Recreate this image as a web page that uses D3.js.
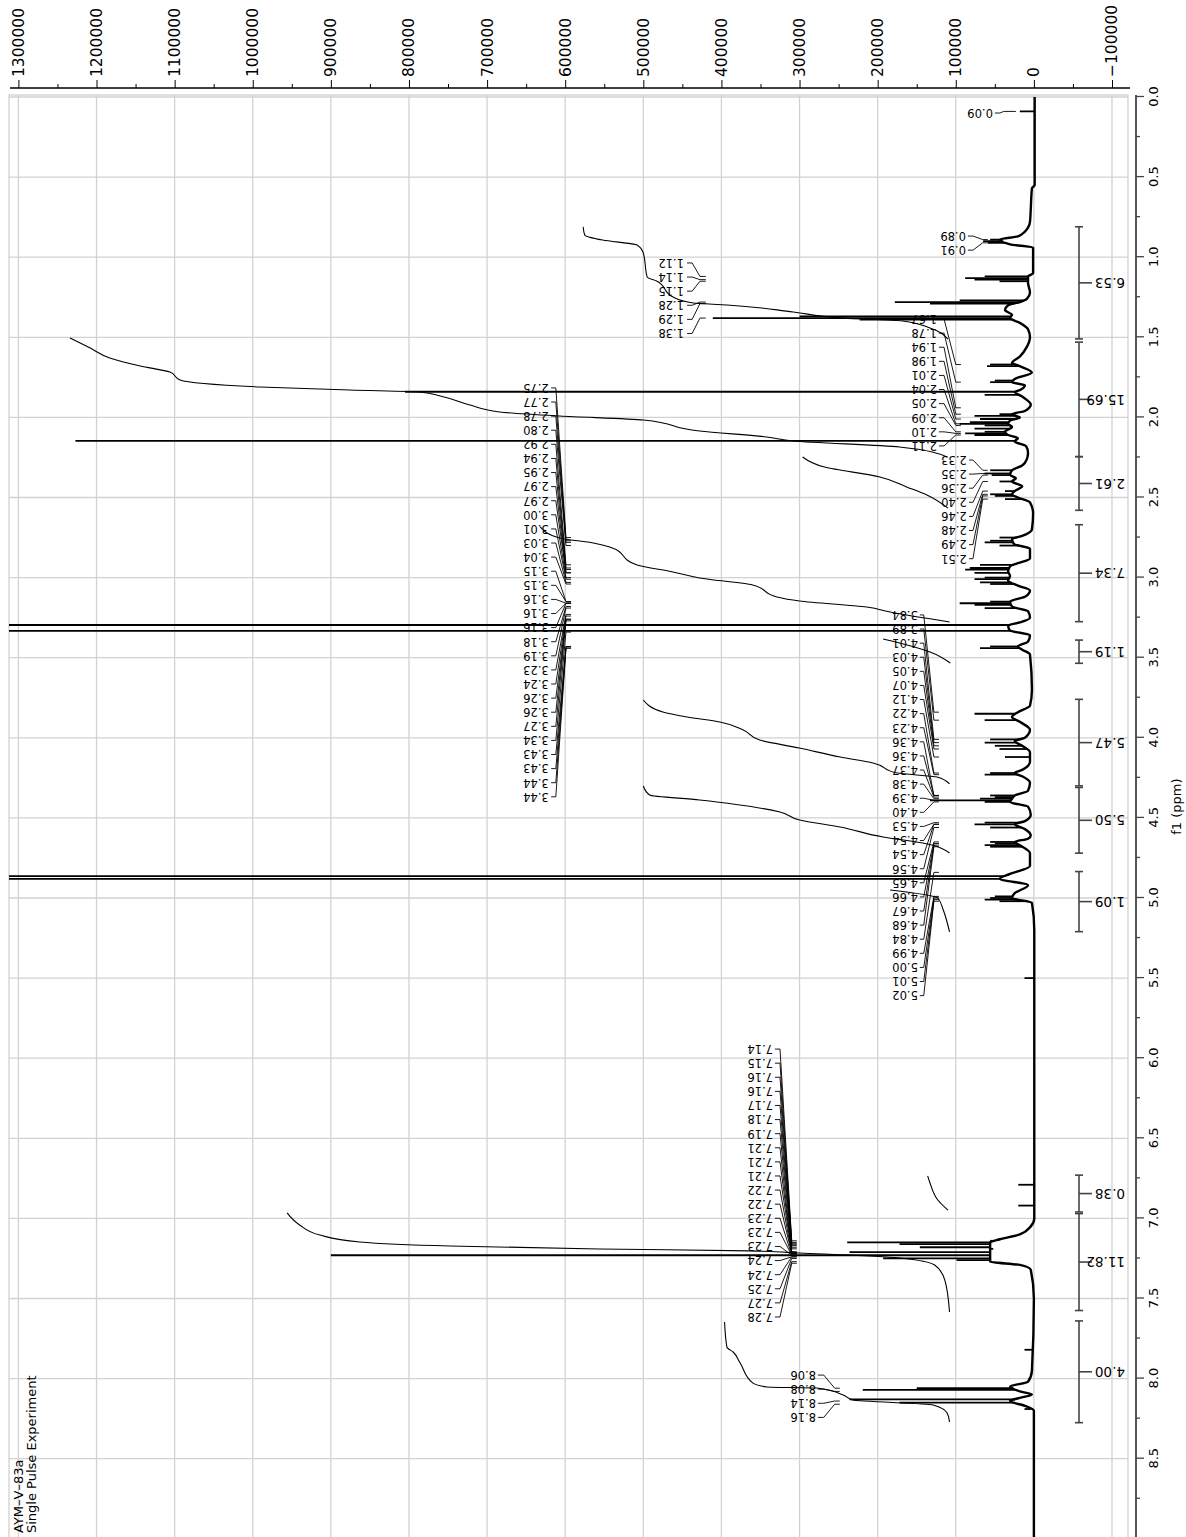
<!DOCTYPE html>
<html>
<head>
<meta charset="utf-8">
<script src="https://cdn.jsdelivr.net/npm/d3@7"></script>
<style>
body { margin: 0; background: #fff; }
text { font-family: "DejaVu Sans", sans-serif; fill: #000; }
</style>
</head>
<body>
<script>
// page size; the chart is drawn in its normal orientation and turned 90deg
var width = 1186;
var height = 1537;

// axis ticks
var ppm_ticks = d3.range(0, 8.51, 0.5);
var ppm_minor = d3.range(0.25, 9, 0.5);
var int_ticks = d3.range(-100000, 1300001, 100000);
var int_minor = d3.range(-50000, 1300000, 100000);

// spectrum baseline / broad shape [ppm, intensity]
var baseline = [
  [0.00,-1000],[0.55,-1000],[0.57,2500],[0.70,4000],[0.78,5000],[0.84,11500],[0.87,20500],
  [0.89,43500],[0.92,30500],[0.94,1000],[1.10,1000],[1.12,7500],[1.16,7500],[1.22,5000],
  [1.26,9000],[1.28,18000],[1.30,33000],[1.33,37000],[1.36,28000],[1.38,30500],[1.41,18000],
  [1.45,7500],[1.50,5000],[1.56,9000],[1.62,18000],[1.66,28000],[1.68,18000],[1.72,2500],
  [1.76,24500],[1.78,28000],[1.80,11500],[1.83,18000],[1.84,24500],[1.87,15000],[1.92,4000],
  [1.96,11500],[1.98,28000],[2.00,18000],[2.02,30500],[2.04,33000],[2.06,28000],[2.09,37000],
  [2.11,33000],[2.13,20500],[2.15,24500],[2.18,10000],[2.22,7500],[2.26,9000],[2.30,15000],
  [2.33,28000],[2.36,30500],[2.38,23000],[2.40,28000],[2.43,15000],[2.46,24500],[2.48,28000],
  [2.50,20500],[2.53,5000],[2.60,1000],[2.70,2500],[2.74,15000],[2.76,28000],[2.79,25500],
  [2.82,5000],[2.88,5000],[2.91,20500],[2.93,30500],[2.96,33000],[2.99,30500],[3.02,33000],
  [3.05,20500],[3.08,5000],[3.12,11500],[3.15,30500],[3.18,28000],[3.21,7500],[3.25,5000],
  [3.28,18000],[3.30,33000],[3.33,30500],[3.36,5000],[3.40,7500],[3.43,20500],[3.45,15000],
  [3.48,5000],[3.70,2500],[3.80,5000],[3.84,20500],[3.87,28000],[3.90,18000],[3.95,5000],
  [4.00,11500],[4.02,24500],[4.05,15000],[4.09,5000],[4.15,5000],[4.20,15000],[4.22,24500],
  [4.24,15000],[4.28,5000],[4.33,7500],[4.36,24500],[4.38,28000],[4.40,30500],[4.43,7500],
  [4.48,4000],[4.52,11500],[4.54,24500],[4.57,11500],[4.61,4000],[4.63,7500],[4.65,24500],
  [4.67,18000],[4.72,5000],[4.80,5000],[4.85,30500],[4.88,43500],[4.92,7500],[4.97,24500],
  [5.00,28000],[5.03,2500],[5.20,-500],[7.00,-500],[7.05,4000],[7.10,18000],[7.13,43500],
  [7.15,56000],[7.27,56000],[7.29,18000],[7.32,4000],[7.50,0],[7.95,2500],[8.02,7500],
  [8.05,30500],[8.08,18000],[8.10,2500],[8.12,18000],[8.14,30500],[8.17,11500],[8.20,0],[9.00,0]
];

// sharp lines [ppm, intensity]
var peaks = [
  [0.09,18000],[0.89,56000],[0.90,65000],[0.91,59000],[1.12,63000],[1.13,88000],[1.14,76000],
  [1.15,44000],[1.27,95000],[1.28,178000],[1.29,133000],[1.37,300000],[1.38,411000],[1.39,223000],
  [1.67,56000],[1.68,60000],[1.77,50000],[1.78,56000],[1.84,805000],[1.86,63000],[1.98,44000],
  [1.99,76000],[2.01,69000],[2.03,82000],[2.04,95000],[2.05,63000],[2.07,76000],[2.09,63000],
  [2.10,88000],[2.11,76000],[2.147,1227000],[2.33,56000],[2.35,63000],[2.36,54000],[2.40,44000],
  [2.46,37000],[2.48,56000],[2.49,50000],[2.51,37000],[2.75,44000],[2.77,56000],[2.78,63000],
  [2.80,44000],[2.92,69000],[2.94,82000],[2.95,88000],[2.97,76000],[3.00,63000],[3.01,76000],
  [3.03,69000],[3.04,56000],[3.15,56000],[3.16,95000],[3.17,76000],[3.19,63000],[3.296,1400000],
  [3.333,1400000],[3.43,56000],[3.44,69000],[3.85,76000],[3.89,63000],[4.01,56000],[4.03,63000],
  [4.05,50000],[4.07,44000],[4.12,37000],[4.22,56000],[4.23,63000],[4.36,56000],[4.37,50000],
  [4.38,69000],[4.39,133000],[4.40,63000],[4.53,63000],[4.54,76000],[4.56,56000],[4.65,56000],
  [4.66,50000],[4.67,63000],[4.68,56000],[4.863,1400000],[4.881,1400000],[4.99,50000],
  [5.00,56000],[5.01,63000],[5.02,44000],[5.50,12000],[6.79,20000],[6.92,20000],
  [7.14,56000],[7.15,239000],[7.16,172000],[7.18,146000],[7.19,52000],[7.21,236000],
  [7.23,900000],[7.25,193000],[7.26,99000],[7.82,12000],[8.06,150000],[8.07,219000],
  [8.13,236000],[8.15,172000],[8.19,12000]
];

// integral curves [ppm, intensity]
var integral_curves = [
  [[0.811,577000],[0.861,575000],[0.893,552000],[0.924,508000],[0.974,500000],[1.124,495000],[1.149,483000],
   [1.248,462000],[1.286,436000],[1.298,393000],[1.342,308000],[1.380,244000],[1.398,168000],[1.442,133000],[1.511,110000]],
  [[1.504,1234000],[1.567,1208000],[1.629,1183000],[1.679,1144000],[1.717,1106000],[1.767,1093000],[1.810,991000],
   [1.829,876000],[1.841,786000],[1.866,760000],[1.923,722000],[1.966,684000],[1.991,607000],[2.016,500000],
   [2.085,428000],[2.122,342000],[2.147,308000],[2.185,172000],[2.247,111000]],
  [[2.247,296000],[2.310,268000],[2.372,197000],[2.434,163000],[2.484,137000],[2.566,110000]],
  [[2.684,632000],[2.753,607000],[2.784,564000],[2.809,543000],[2.921,508000],[2.965,462000],[3.002,428000],
   [3.046,360000],[3.121,329000],[3.146,300000],[3.184,214000],[3.215,184000],[3.277,108000]],
  [[3.383,193000],[3.408,172000],[3.464,133000],[3.533,107000]],
  [[3.764,500000],[3.839,475000],[3.870,444000],[3.901,402000],[3.951,372000],[4.014,351000],[4.064,300000],
   [4.120,248000],[4.157,206000],[4.220,175000],[4.245,124000],[4.288,108000]],
  [[4.301,500000],[4.357,492000],[4.388,428000],[4.463,325000],[4.513,300000],[4.557,248000],[4.619,193000],
   [4.657,142000],[4.719,108000]],
  [[4.950,184000],[5.000,123000],[5.075,116000],[5.212,108000]],
  [[6.735,136000],[6.779,133000],[6.885,123000],[6.948,110000]],
  [[6.966,956000],[7.041,940000],[7.104,914000],[7.147,863000],[7.172,748000],[7.191,556000],[7.203,364000],
   [7.216,300000],[7.247,172000],[7.291,127000],[7.385,114000],[7.584,108000]],
  [[7.647,396000],[7.803,393000],[7.834,385000],[7.903,376000],[8.027,360000],[8.052,342000],[8.059,278000],
   [8.102,244000],[8.134,232000],[8.165,129000],[8.215,111000],[8.271,108000]]
];

// integration ranges and values
var integral_ranges = [[0.81,1.51],[1.53,2.245],[2.245,2.58],[2.67,3.275],[3.39,3.535],[3.76,4.30],
  [4.31,4.72],[4.835,5.21],[6.73,6.96],[6.97,7.575],[7.64,8.275]];
var integral_values = ["6.53","15.69","2.61","7.34","1.19","5.47","5.50","1.09","0.38","11.82","4.00"];

// peak label groups
var label_groups = [
  ["0.09"],
  ["0.89","0.91"],
  ["1.12","1.14","1.15","1.28","1.29","1.38"],
  ["1.67","1.78","1.94","1.98","2.01","2.04","2.05","2.09","2.10","2.11"],
  ["2.33","2.35","2.36","2.40","2.46","2.48","2.49","2.51"],
  ["2.75","2.77","2.78","2.80","2.92","2.94","2.95","2.97","2.97","3.00","3.01","3.03","3.04","3.15","3.15",
   "3.16","3.16","3.16","3.18","3.19","3.23","3.24","3.26","3.26","3.27","3.34","3.43","3.43","3.44","3.44"],
  ["3.84","3.89","4.01","4.03","4.05","4.07","4.12","4.22","4.23","4.36","4.36","4.37","4.38","4.39","4.40",
   "4.53","4.54","4.54","4.56","4.65","4.66","4.67","4.68","4.84","4.99","5.00","5.01","5.02"],
  ["7.14","7.15","7.16","7.16","7.17","7.18","7.19","7.21","7.21","7.21","7.22","7.22","7.23","7.23","7.23",
   "7.24","7.24","7.25","7.27","7.28"],
  ["8.06","8.08","8.14","8.16"]
];
// where each group sits: first label ppm, text level, leader levels (intensity)
var label_layout = [
  {first:0.100, text:52500, lead:[50000,43500,38500,23000]},
  {first:0.868, text:87000, lead:[84500,78000,65500,59000]},
  {first:1.036, text:448000, lead:[444000,437500,427500,420000]},
  {first:1.386, text:124000, lead:[121500,115000,100000,93500]},
  {first:2.266, text:86000, lead:[83000,78000,65500,59000]},
  {first:1.816, text:621000, lead:[618000,612000,599000,592500]},
  {first:3.233, text:148500, lead:[146000,141000,128000,121500]},
  {first:5.943, text:334000, lead:[331500,325000,310000,303500]},
  {first:7.978, text:279000, lead:[276500,269000,255000,248500]}
];
var label_step = 14.1;

var title_lines = ["AYM\u2013V\u201383a", "Single Pulse Experiment"];

// scales (in the unrotated frame: x = ppm, y = intensity)
var x = d3.scaleLinear().domain([0, 8.5]).range([1440, 1440 - 8.5 * 160.2]);
var y = d3.scaleLinear().domain([-100000, 1300000]).range([1112, 18.4]);
var frame = {x0: -5, x1: 1442, y0: 9, y1: 1128};

var svg = d3.select("body").append("svg")
    .attr("width", width)
    .attr("height", height);
svg.append("rect").attr("width", width).attr("height", height).attr("fill", "#fff");

var g = svg.append("g").attr("transform", "translate(0," + height + ") rotate(-90)");

g.append("clipPath").attr("id", "plotclip").append("rect")
    .attr("x", frame.x0).attr("y", frame.y0)
    .attr("width", frame.x1 - frame.x0).attr("height", frame.y1 - frame.y0);

// grid
var grid = g.append("g").attr("stroke", "#d2d2d2").attr("stroke-width", 1.3);
grid.selectAll(".gv").data(d3.range(0, 9.01, 0.5)).join("line")
    .attr("x1", d => x(d)).attr("x2", d => x(d))
    .attr("y1", frame.y0).attr("y2", frame.y1);
grid.selectAll(".gh").data(int_ticks).join("line")
    .attr("x1", frame.x0).attr("x2", frame.x1)
    .attr("y1", d => y(d)).attr("y2", d => y(d));
grid.append("rect")
    .attr("x", frame.x0).attr("y", frame.y0)
    .attr("width", frame.x1 - frame.x0).attr("height", frame.y1 - frame.y0)
    .attr("fill", "none");

// intensity axis (right side before rotation)
var yAxisG = g.append("g").attr("transform", "translate(1449,0)");
yAxisG.call(d3.axisRight(y).tickValues(int_ticks).tickSize(8).tickPadding(3).tickFormat(d3.format("d")));
yAxisG.append("g").call(d3.axisRight(y).tickValues(int_minor).tickSize(4).tickFormat(""));
yAxisG.selectAll(".domain").remove();
yAxisG.selectAll("text").attr("font-size", 15.5).attr("font-family", "DejaVu Sans");
yAxisG.selectAll("line").attr("stroke", "#000");
yAxisG.append("line").attr("y1", frame.y0 + 1).attr("y2", frame.y1 + 2)
    .attr("stroke", "#000").attr("stroke-width", 1.5);

// ppm axis (bottom before rotation)
var xAxisG = g.append("g").attr("transform", "translate(0,1136)");
xAxisG.call(d3.axisBottom(x).tickValues(ppm_ticks).tickSize(8).tickPadding(5).tickFormat(d3.format(".1f")));
xAxisG.append("g").call(d3.axisBottom(x).tickValues(ppm_minor).tickSize(4).tickFormat(""));
xAxisG.selectAll(".domain").remove();
xAxisG.selectAll("line").attr("stroke", "#444").attr("stroke-width", 1.3);
xAxisG.selectAll("text").attr("font-size", 13).attr("font-family", "DejaVu Sans");
xAxisG.append("line").attr("x1", frame.x0).attr("x2", frame.x1)
    .attr("stroke", "#444").attr("stroke-width", 1.8);
g.append("text")
    .attr("x", x(4.43)).attr("y", 1181)
    .attr("text-anchor", "middle").attr("font-size", 13)
    .text("f1 (ppm)");

// spectrum
var plot = g.append("g").attr("clip-path", "url(#plotclip)");
var bis = d3.bisector(d => d[0]).left;
function baseAt(p) {
    var i = bis(baseline, p);
    if (i <= 0) return baseline[0][1];
    if (i >= baseline.length) return baseline[baseline.length - 1][1];
    var a = baseline[i - 1], b = baseline[i];
    return a[1] + (p - a[0]) / (b[0] - a[0]) * (b[1] - a[1]);
}
var line = d3.line().curve(d3.curveMonotoneX).x(d => x(d[0])).y(d => y(d[1]));
plot.append("path").datum(baseline.slice().reverse())
    .attr("d", line).attr("fill", "none")
    .attr("stroke", "#000").attr("stroke-width", 2.4).attr("stroke-linejoin", "round");
plot.selectAll(".pk").data(peaks).join("line")
    .attr("x1", d => x(d[0])).attr("x2", d => x(d[0]))
    .attr("y1", d => y(baseAt(d[0]))).attr("y2", d => y(d[1]))
    .attr("stroke", "#000").attr("stroke-width", 1.8);

// integral curves
plot.selectAll(".ic").data(integral_curves).join("path")
    .attr("d", function(d) {
        return d3.line().curve(d3.curveMonotoneX).x(p => x(p[0])).y(p => y(p[1]))(d.slice().reverse());
    })
    .attr("fill", "none").attr("stroke", "#000").attr("stroke-width", 1.1);

// integration bars
var barY = 1079;
var ib = g.append("g").attr("stroke", "#444").attr("stroke-width", 1.6);
integral_ranges.forEach(function(r, i) {
    ib.append("line").attr("x1", x(r[0])).attr("x2", x(r[1])).attr("y1", barY).attr("y2", barY);
    ib.append("line").attr("x1", x(r[0])).attr("x2", x(r[0])).attr("y1", barY - 4).attr("y2", barY + 4);
    ib.append("line").attr("x1", x(r[1])).attr("x2", x(r[1])).attr("y1", barY - 4).attr("y2", barY + 4);
    var m = (r[0] + r[1]) / 2;
    ib.append("line").attr("x1", x(m)).attr("x2", x(m)).attr("y1", barY).attr("y2", barY + 13);
    g.append("text")
        .attr("transform", "translate(" + x(m) + ",1125) rotate(-90)")
        .attr("dy", "0.36em").attr("font-size", 13.5).attr("fill", "#222")
        .text(integral_values[i]);
});

// peak labels with leaders
var lab = g.append("g");
label_groups.forEach(function(labels, gi) {
    var L = label_layout[gi];
    labels.forEach(function(s, i) {
        var lx = x(L.first) - i * label_step;
        var px = x(parseFloat(s));
        lab.append("text")
            .attr("transform", "translate(" + lx + "," + y(L.text) + ") rotate(-90)")
            .attr("dy", "0.36em").attr("font-size", 11.5)
            .text(s);
        lab.append("path")
            .attr("d", "M" + lx + "," + y(L.lead[0]) + "L" + lx + "," + y(L.lead[1]) +
                  "L" + px + "," + y(L.lead[2]) + "L" + px + "," + y(L.lead[3]))
            .attr("fill", "none").attr("stroke", "#000").attr("stroke-width", 0.9);
    });
});

// experiment title
title_lines.forEach(function(t, i) {
    g.append("text").attr("x", 4).attr("y", 23 + i * 13)
        .attr("font-size", 13).text(t);
});
</script>
</body>
</html>
